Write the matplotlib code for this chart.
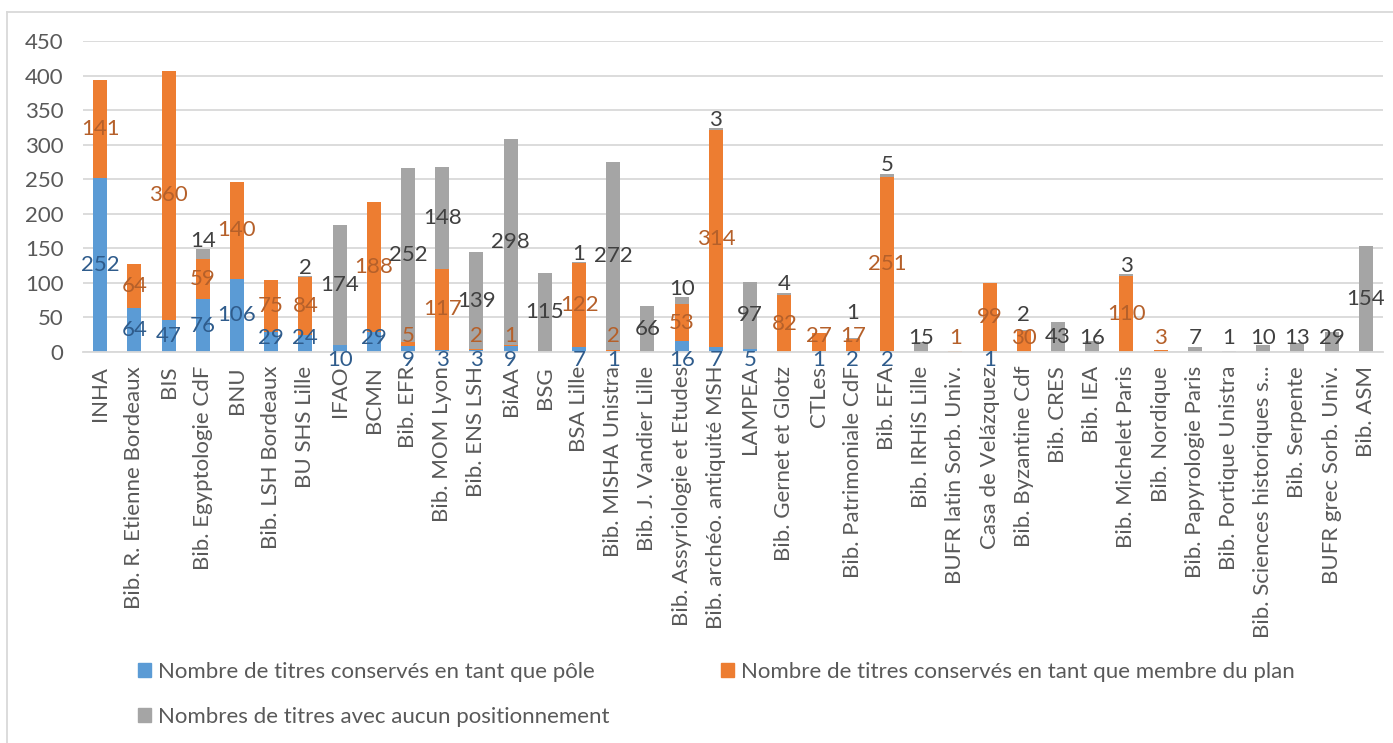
import matplotlib
matplotlib.use("Agg")
from matplotlib import pyplot as plt
from matplotlib.lines import Line2D
from matplotlib.patches import Patch
import numpy as np

plt.rcParams['font.family'] = ['Lato', 'DejaVu Sans']

# data
libraries = ["INHA", "Bib. R. Etienne Bordeaux", "BIS", "Bib. Egyptologie CdF", "BNU",
             "Bib. LSH Bordeaux", "BU SHS Lille", "IFAO", "BCMN", "Bib. EFR",
             "Bib. MOM Lyon", "Bib. ENS LSH", "BiAA", "BSG", "BSA Lille",
             "Bib. MISHA Unistra", "Bib. J. Vandier Lille", "Bib. Assyriologie et Etudes",
             "Bib. archéo. antiquité MSH", "LAMPEA", "Bib. Gernet et Glotz", "CTLes",
             "Bib. Patrimoniale CdF", "Bib. EFA", "Bib. IRHiS Lille", "BUFR latin Sorb. Univ.",
             "Casa de Velázquez", "Bib. Byzantine Cdf", "Bib. CRES", "Bib. IEA",
             "Bib. Michelet Paris", "Bib. Nordique", "Bib. Papyrologie Paris",
             "Bib. Portique Unistra", "Bib. Sciences historiques s...", "Bib. Serpente",
             "BUFR grec Sorb. Univ.", "Bib. ASM"]
pole = [252, 64, 47, 76, 106, 29, 24, 10, 29, 9, 3, 3, 9, 0, 7, 1, 0, 16, 7, 5,
        0, 1, 2, 2, 0, 0, 1, 0, 0, 0, 0, 0, 0, 0, 0, 0, 0, 0]
membre = [141, 64, 360, 59, 140, 75, 84, 0, 188, 5, 117, 2, 1, 0, 122, 2, 0, 53, 314, 0,
          82, 27, 17, 251, 0, 1, 99, 30, 0, 0, 110, 3, 0, 0, 0, 0, 0, 0]
aucun = [0, 0, 0, 14, 0, 0, 2, 174, 0, 252, 148, 139, 298, 115, 1, 272, 66, 10, 3, 97,
         4, 0, 1, 5, 15, 0, 0, 2, 43, 16, 3, 0, 7, 1, 10, 13, 29, 154]
series_names = ["Nombre de titres conservés en tant que pôle",
                "Nombre de titres conservés en tant que membre du plan",
                "Nombres de titres avec aucun positionnement"]

bar_colors = ["#5B9BD5", "#ED7D31", "#A5A5A5"]
label_colors = ["#2F5C8C", "#B5602A", "#404040"]

fig = plt.figure(figsize=(13.93, 7.43), dpi=100)
ax = fig.add_axes([83/1393, 1-352/743, 1300/1393, 311/743])

x = np.arange(len(libraries))
w = 0.41
data = [np.array(pole), np.array(membre), np.array(aucun)]
bottoms = [np.zeros(len(x)), data[0], data[0] + data[1]]
for k in range(3):
    ax.bar(x, data[k], w, bottom=bottoms[k], color=bar_colors[k], zorder=2)

# data labels, centred in each segment, nudged apart roughly like Excel does
totals = data[0] + data[1] + data[2]
for i in range(len(x)):
    vis = [k for k in range(3) if data[k][i] > 0]
    prev = None
    for k in vis:
        v = data[k][i]
        c = bottoms[k][i] + v / 2
        if prev is None:
            if k == 0 and v < 20 and len(vis) > 1:
                y = -11
            else:
                y = max(c, 20)
        else:
            y = max(c, prev + 34)
            if k == vis[-1] and v < 20:
                y = max(y, totals[i] + 12)
        prev = y
        ax.text(x[i], y, str(int(v)), ha='center', va='center', fontsize=16,
                color=label_colors[k], clip_on=False, zorder=3)

ax.set_xlim(-0.5, len(x) - 0.5)
ax.set_ylim(0, 450)
ax.set_yticks(range(0, 451, 50))
ax.set_xticks(x)
ax.set_xticklabels(libraries, rotation=90, fontsize=16, color='#595959')
ax.tick_params(axis='y', labelsize=16, labelcolor='#595959', length=0, pad=14)
ax.tick_params(axis='x', length=0, pad=10)
ax.grid(axis='y', color='#D9D9D9', lw=1.3, zorder=0)
for s in ['top', 'right', 'left']:
    ax.spines[s].set_visible(False)
ax.spines['bottom'].set_color('#D9D9D9')
ax.spines['bottom'].set_linewidth(1.3)

handles = [Patch(color=bar_colors[0]), Patch(color=bar_colors[2]), Patch(color=bar_colors[1])]
names = [series_names[0], series_names[2], series_names[1]]
fig.legend(handles, names, ncol=2, loc='upper left', bbox_to_anchor=(138/1393, 1-662/743),
           frameon=False, fontsize=16, labelcolor='#595959', handlelength=0.6,
           handleheight=0.6, handletextpad=0.3, columnspacing=5.0, labelspacing=1.12,
           borderpad=0, borderaxespad=0)

# chart border
fig.add_artist(Line2D([7/1393, 7/1393], [0, 1-12/743], transform=fig.transFigure,
                      color='#D9D9D9', lw=1.3))
fig.add_artist(Line2D([7/1393, 1], [1-12/743, 1-12/743], transform=fig.transFigure,
                      color='#D9D9D9', lw=1.3))

fig.savefig("out.png", dpi=100)
